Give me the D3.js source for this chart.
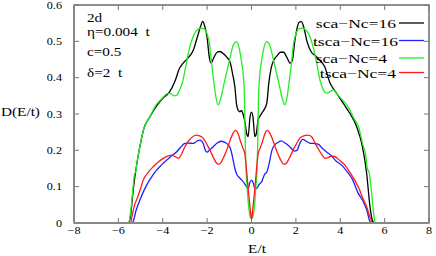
<!DOCTYPE html>
<html>
<head>
<meta charset="utf-8">
<script src="https://d3js.org/d3.v7.min.js"></script>
<style>
  body { margin: 0; background: #fff; }
  text { font-family: "Liberation Serif", "Times New Roman", serif; fill: #000; }
</style>
</head>
<body>
<script>
// energies (E/t) and densities D(E/t)
var sca16E = [-7.2,-5.55,-5.45,-5.35,-5.25,-5.15,-5.0,-4.85,-4.6,-4.3,-4.0,-3.7,-3.45,-3.25,-3.05,-2.85,-2.62,-2.45,-2.3,-2.2,-2.1,-2.0,-1.9,-1.82,-1.7,-1.55,-1.42,-1.25,-1.1,-0.97,-0.85,-0.75,-0.67,-0.6,-0.52,-0.45,-0.37,-0.3,-0.22,-0.15,-0.07,0,0.07,0.15,0.22,0.3,0.37,0.46,0.55,0.69,0.78,0.88,1.0,1.15,1.3,1.45,1.6,1.75,1.85,1.95,2.05,2.15,2.25,2.35,2.5,2.7,2.85,3.05,3.3,3.54,3.8,4.14,4.45,4.74,5.0,5.19,5.34,5.46,5.55,7.2];
var sca16D = [0,0,0.02,0.08,0.13,0.17,0.22,0.26,0.29,0.32,0.343,0.36,0.39,0.425,0.442,0.455,0.476,0.51,0.54,0.555,0.54,0.51,0.455,0.44,0.455,0.47,0.472,0.465,0.455,0.444,0.41,0.375,0.325,0.31,0.306,0.31,0.297,0.28,0.247,0.238,0.29,0.305,0.29,0.238,0.247,0.285,0.293,0.302,0.31,0.33,0.385,0.425,0.448,0.46,0.47,0.47,0.455,0.44,0.45,0.5,0.535,0.553,0.554,0.54,0.5,0.47,0.462,0.45,0.43,0.385,0.36,0.329,0.3,0.265,0.21,0.137,0.045,0.005,0,0];

var tsca16E = [-7.2,-5.4,-5.33,-5.2,-5.03,-4.88,-4.72,-4.5,-4.27,-4.05,-3.82,-3.6,-3.37,-3.2,-3.0,-2.8,-2.62,-2.47,-2.32,-2.17,-2.08,-2.0,-1.9,-1.72,-1.55,-1.38,-1.2,-1.05,-0.95,-0.85,-0.75,-0.67,-0.55,-0.44,-0.33,-0.22,-0.15,-0.08,0,0.08,0.15,0.23,0.33,0.46,0.59,0.69,0.8,0.92,1.05,1.2,1.34,1.52,1.72,1.94,2.05,2.17,2.31,2.47,2.62,2.8,3.0,3.2,3.4,3.6,3.82,4.05,4.3,4.55,4.8,5.03,5.2,5.33,5.4,7.2];
var tsca16D = [0,0,0.005,0.035,0.063,0.085,0.105,0.127,0.146,0.16,0.173,0.185,0.196,0.208,0.219,0.22,0.219,0.225,0.228,0.218,0.2,0.195,0.2,0.21,0.22,0.225,0.222,0.215,0.205,0.18,0.15,0.135,0.125,0.118,0.11,0.1,0.095,0.11,0.118,0.11,0.095,0.095,0.105,0.114,0.134,0.14,0.165,0.2,0.215,0.222,0.226,0.22,0.21,0.198,0.2,0.218,0.23,0.225,0.22,0.219,0.217,0.205,0.195,0.185,0.17,0.16,0.142,0.12,0.083,0.06,0.035,0.005,0,0];

var sca4E = [-7.2,-5.55,-5.45,-5.35,-5.27,-5.22,-5.15,-5.0,-4.85,-4.6,-4.3,-4.0,-3.8,-3.65,-3.5,-3.37,-3.25,-3.1,-2.95,-2.8,-2.65,-2.5,-2.3,-2.15,-2.0,-1.9,-1.8,-1.7,-1.6,-1.5,-1.4,-1.25,-1.1,-0.95,-0.82,-0.68,-0.55,-0.44,-0.36,-0.31,-0.28,-0.25,-0.2,-0.12,-0.05,0,0.05,0.12,0.2,0.25,0.28,0.31,0.36,0.44,0.55,0.68,0.82,0.95,1.1,1.25,1.4,1.5,1.6,1.7,1.8,1.9,2.0,2.15,2.3,2.5,2.65,2.8,2.95,3.1,3.25,3.39,3.5,3.69,3.85,4.0,4.3,4.6,4.85,5.0,5.15,5.22,5.3,5.4,5.5,5.58,7.2];
var sca4D = [0,0,0.03,0.09,0.135,0.14,0.17,0.22,0.26,0.29,0.325,0.345,0.356,0.357,0.35,0.352,0.365,0.39,0.435,0.48,0.51,0.528,0.536,0.535,0.52,0.495,0.44,0.39,0.345,0.325,0.34,0.38,0.42,0.46,0.49,0.499,0.48,0.44,0.4,0.33,0.22,0.15,0.1,0.04,0.015,0.012,0.015,0.04,0.1,0.15,0.22,0.33,0.4,0.44,0.48,0.499,0.49,0.46,0.42,0.38,0.34,0.325,0.345,0.39,0.44,0.495,0.52,0.535,0.536,0.528,0.51,0.48,0.435,0.39,0.365,0.357,0.36,0.366,0.355,0.345,0.325,0.29,0.26,0.22,0.185,0.15,0.14,0.09,0.03,0,0];

var tsca4E = [-7.2,-5.45,-5.38,-5.27,-5.17,-5.0,-4.88,-4.65,-4.43,-4.2,-3.98,-3.75,-3.6,-3.45,-3.3,-3.15,-3.0,-2.85,-2.7,-2.5,-2.35,-2.17,-2.0,-1.87,-1.7,-1.54,-1.45,-1.3,-1.12,-0.95,-0.82,-0.72,-0.6,-0.5,-0.4,-0.3,-0.2,-0.12,-0.06,0,0.06,0.12,0.2,0.3,0.4,0.5,0.6,0.72,0.82,0.95,1.12,1.3,1.45,1.54,1.7,1.87,2.0,2.17,2.35,2.55,2.7,2.85,3.0,3.15,3.31,3.45,3.6,3.75,3.98,4.2,4.43,4.65,4.88,5.0,5.17,5.27,5.38,5.45,7.2];
var tsca4D = [0,0,0.02,0.05,0.065,0.095,0.118,0.14,0.155,0.168,0.178,0.185,0.187,0.183,0.178,0.19,0.21,0.225,0.235,0.242,0.24,0.233,0.215,0.2,0.178,0.163,0.162,0.175,0.2,0.23,0.248,0.255,0.245,0.225,0.208,0.19,0.13,0.075,0.04,0.01,0.04,0.075,0.13,0.19,0.208,0.225,0.245,0.255,0.248,0.23,0.2,0.175,0.162,0.163,0.178,0.2,0.215,0.233,0.24,0.242,0.238,0.222,0.205,0.19,0.178,0.18,0.184,0.183,0.172,0.16,0.14,0.118,0.09,0.07,0.048,0.03,0.01,0,0];

var series = [
  {name: "sca\u2212Nc=16", E: sca16E, D: sca16D, color: "#000000"},
  {name: "tsca\u2212Nc=16", E: tsca16E, D: tsca16D, color: "#1f1fff"},
  {name: "sca\u2212Nc=4", E: sca4E, D: sca4D, color: "#22ee22"},
  {name: "tsca\u2212Nc=4", E: tsca4E, D: tsca4D, color: "#ff1a1a"}
];
var xTicks = [-8, -6, -4, -2, 0, 2, 4, 6, 8];
var yTicks = [0, 0.1, 0.2, 0.3, 0.4, 0.5, 0.6];
var notes = ["2d", "\u03b7=0.004  t", "c=0.5", "\u03b4=2  t"];

var W = 436, H = 256;
var mLeft = 74, mRight = 429, mTop = 5, mBottom = 223;
var SX = 1.22; // the reference text is stretched sideways

var svg = d3.select("body").append("svg").attr("width", W).attr("height", H);

var x = d3.scaleLinear().domain([-8, 8]).range([mLeft, mRight]);
var y = d3.scaleLinear().domain([0, 0.6]).range([mBottom, mTop]);

function txt(px, py, s, anchor, size, sx) {
  return svg.append("text")
    .attr("transform", "translate(" + px + "," + py + ") scale(" + (sx || SX) + ",1)")
    .attr("text-anchor", anchor)
    .style("font-size", size + "px")
    .style("white-space", "pre")
    .text(s);
}

// frame
svg.append("rect").attr("x", mLeft).attr("y", mTop)
  .attr("width", mRight - mLeft).attr("height", mBottom - mTop)
  .attr("fill", "none").attr("stroke", "#222").attr("stroke-width", 1);

// ticks (inward, on all four sides)
var tk = svg.append("g").attr("stroke", "#777").attr("stroke-width", 1);
xTicks.forEach(function(t) {
  tk.append("line").attr("x1", x(t)).attr("x2", x(t)).attr("y1", mBottom).attr("y2", mBottom - 5);
  tk.append("line").attr("x1", x(t)).attr("x2", x(t)).attr("y1", mTop).attr("y2", mTop + 5);
  txt(x(t), 234, d3.format("")(t).replace("-", "\u2212"), "middle", 10);
});
yTicks.forEach(function(t) {
  tk.append("line").attr("x1", mLeft).attr("x2", mLeft + 5).attr("y1", y(t)).attr("y2", y(t));
  tk.append("line").attr("x1", mRight).attr("x2", mRight - 5).attr("y1", y(t)).attr("y2", y(t));
  txt(62, y(t) + 3.5, t === 0 ? "0" : d3.format(".1f")(t), "end", 10);
});

// curves
var line = d3.line()
  .x(function(d) { return x(d[0]); })
  .y(function(d) { return y(d[1]); })
  .curve(d3.curveMonotoneX);

series.forEach(function(s) {
  var pts = s.E.map(function(e, i) { return [e, s.D[i]]; });
  svg.append("path").datum(pts)
    .attr("d", line)
    .attr("fill", "none")
    .attr("stroke", s.color)
    .attr("stroke-width", 1.3)
    .attr("stroke-linejoin", "round");
});

// bottom and left axis lines (grey, a bit heavier)
svg.append("line").attr("x1", mLeft).attr("x2", mRight).attr("y1", mBottom).attr("y2", mBottom)
  .attr("stroke", "#888").attr("stroke-width", 2);
svg.append("line").attr("x1", mLeft).attr("x2", mLeft).attr("y1", mTop).attr("y2", mBottom)
  .attr("stroke", "#888").attr("stroke-width", 2);

// key
var keyY = [23, 40.5, 58, 72.5];
var keyEnd = [396, 398, 387, 396];
series.forEach(function(s, i) {
  txt(keyEnd[i], keyY[i] + 5, s.name, "end", 13.5, 1.3);
  svg.append("line").attr("x1", 399).attr("x2", 424).attr("y1", keyY[i]).attr("y2", keyY[i])
    .attr("stroke", s.color).attr("stroke-width", 1.3);
});

// parameters
var noteY = [21.5, 36, 56, 77];
notes.forEach(function(n, i) { txt(87, noteY[i], n, "start", 12.5); });

// axis titles
txt(1, 116, "D(E/t)", "start", 12.5);
txt(257, 253, "E/t", "middle", 12.5);
</script>
</body>
</html>
